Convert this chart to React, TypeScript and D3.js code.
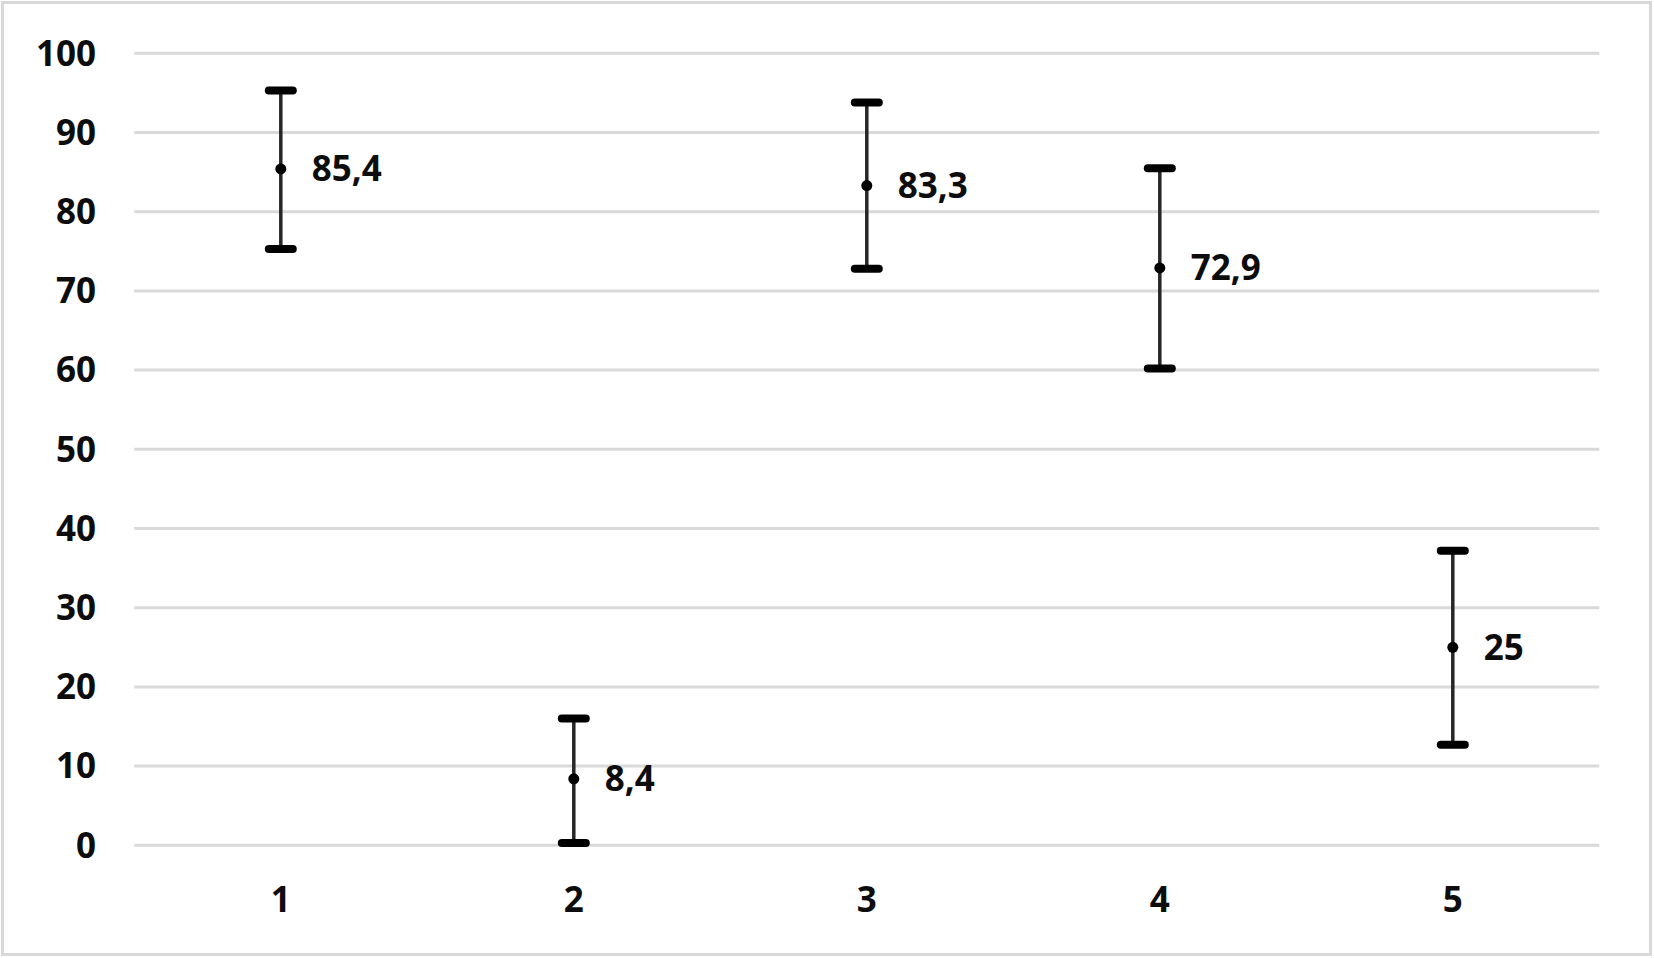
import React from "react";
import * as d3 from "d3";

const categories = ["1", "2", "3", "4", "5"];
const means = [85.4, 8.4, 83.3, 72.9, 25];
const upper = [95.3, 16.0, 93.8, 85.5, 37.2];
const lower = [75.3, 0.3, 72.8, 60.2, 12.7];
const labels = ["85,4", "8,4", "83,3", "72,9", "25"];
const yTicks = [0, 10, 20, 30, 40, 50, 60, 70, 80, 90, 100];

const W = 1654;
const H = 958;

export default function App() {
  const x = d3.scaleBand<string>().domain(categories).range([134.3, 1599.3]);
  const y = d3.scaleLinear().domain([0, 100]).range([845.3, 53.3]);
  const font = "'Open Sans', 'Noto Sans', sans-serif";
  const capW = 24;
  return (
    <svg width={W} height={H} style={{ position: "absolute", left: 0, top: 0, background: "#fff" }}>
      <rect x={2.5} y={2.5} width={W - 6} height={H - 6} fill="#fff" stroke="#d9d9d9" strokeWidth={3} />
      {yTicks.map((t) => (
        <g key={t}>
          <line x1={134.3} x2={1599.3} y1={y(t)} y2={y(t)} stroke="#d9d9d9" strokeWidth={3} />
          <text x={96} y={y(t)} dy="0.35em" textAnchor="end" fontFamily={font} fontWeight={700} fontSize={35} fill="#0d0d0d">
            {t}
          </text>
        </g>
      ))}
      {categories.map((c, i) => {
        const cx = (x(c) as number) + x.bandwidth() / 2;
        return (
          <g key={c}>
            <text x={cx} y={900} dy="0.35em" textAnchor="middle" fontFamily={font} fontWeight={700} fontSize={35} fill="#0d0d0d">
              {c}
            </text>
            <line x1={cx} x2={cx} y1={y(upper[i])} y2={y(lower[i])} stroke="#262626" strokeWidth={3.5} />
            <line x1={cx - capW / 2} x2={cx + capW / 2} y1={y(upper[i])} y2={y(upper[i])} stroke="#000" strokeWidth={8} strokeLinecap="round" />
            <line x1={cx - capW / 2} x2={cx + capW / 2} y1={y(lower[i])} y2={y(lower[i])} stroke="#000" strokeWidth={8} strokeLinecap="round" />
            <circle cx={cx} cy={y(means[i])} r={5.5} fill="#000" />
            <text x={cx + 31} y={y(means[i])} dy="0.35em" fontFamily={font} fontWeight={700} fontSize={35} fill="#0d0d0d">
              {labels[i]}
            </text>
          </g>
        );
      })}
    </svg>
  );
}
